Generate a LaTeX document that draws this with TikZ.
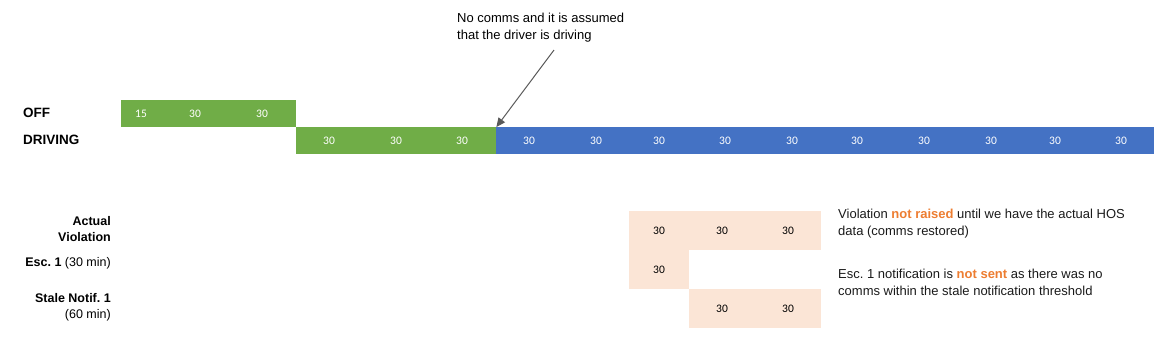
\documentclass[tikz,border=0pt]{standalone}
\usepackage{fontspec}
\setmainfont{Liberation Sans}
\newfontfamily\numfont{Carlito}
\usetikzlibrary{arrows.meta}
\definecolor{offgreen}{HTML}{70AD47}
\definecolor{drvblue}{HTML}{4472C4}
\definecolor{peach}{HTML}{FBE5D6}
\definecolor{hiorange}{HTML}{ED7D31}
\definecolor{txtgray}{HTML}{1A1A1A}
\definecolor{arrgray}{HTML}{595959}
\tikzset{
  bar/.style={draw=none, inner sep=0pt, anchor=north west},
  barnum/.style={font=\numfont\fontsize{11.5}{13}\selectfont, text=white, inner sep=0pt},
  peachnum/.style={font=\numfont\fontsize{11.5}{13}\selectfont, text=black, inner sep=0pt},
  rowlabel/.style={font=\bfseries\fontsize{13.5}{15}\selectfont, anchor=west, inner sep=0pt},
  sidelabel/.style={font=\fontsize{12.5}{16}\selectfont, anchor=east, align=right, inner sep=0pt},
  note/.style={font=\fontsize{13}{17}\selectfont, anchor=north west, align=left, inner sep=0pt, text=txtgray}
}
\newcommand{\hlt}[1]{\textcolor{hiorange}{\bfseries #1}}
\begin{document}
\begin{tikzpicture}[x=1pt,y=-1pt]
\useasboundingbox (0,0) rectangle (1165,360);
% row labels
\node[rowlabel] (offL) at (23,113) {OFF};
\node[rowlabel] (drvL) at (23,140) {DRIVING};
% bars
\fill[offgreen] (121,100) rectangle (296,127);
\node[bar, minimum width=175pt, minimum height=27pt] (offbar) at (121,100) {};
\fill[offgreen] (296,127) rectangle (496,154);
\node[bar, minimum width=200pt, minimum height=27pt] (drvG) at (296,127) {};
\fill[drvblue] (496,127) rectangle (1154,154);
\node[bar, minimum width=658pt, minimum height=27pt] (drvB) at (496,127) {};
% numbers
\foreach \x/\t [count=\i] in {141/15,195/30,262/30}
  \node[barnum] (o\i) at (\x,113.5) {\t};
\foreach \x [count=\i] in {329,396,462,529,596,659,725,792,857,924,991,1055,1121}
  \node[barnum] (d\i) at (\x,140.5) {30};
% annotation
\node[note, text=black] (ann) at (457,13) {No comms and it is assumed\\that the driver is driving};
\coordinate (arrS) at (554,50);
\draw[arrgray, line width=1pt, -{Triangle[length=9pt,width=8pt]}] (arrS) -- (drvG.north east);
% side labels
\node[sidelabel] (actL) at (111,229.5) {\bfseries Actual\\\bfseries Violation};
\node[sidelabel] (escL) at (111,263) {\bfseries Esc.\ 1 \mdseries(30 min)};
\node[sidelabel] (staL) at (111,307) {\bfseries Stale Notif.\ 1\\(60 min)};
% peach boxes
\fill[peach] (629,211) rectangle (821,250);
\node[bar, minimum width=192pt, minimum height=39pt] (actbox) at (629,211) {};
\fill[peach] (629,250) rectangle (689,289);
\node[bar, minimum width=60pt, minimum height=39pt] (escbox) at (629,250) {};
\fill[peach] (689,289) rectangle (821,328);
\node[bar, minimum width=132pt, minimum height=39pt] (stabox) at (689,289) {};
\node[peachnum] (a1) at (659,231) {30};
\node[peachnum] (a2) at (722,231) {30};
\node[peachnum] (a3) at (788,231) {30};
\node[peachnum] (e1) at (659,270) {30};
\node[peachnum] (s1) at (722,309) {30};
\node[peachnum] (s2) at (788,309) {30};
% notes
\node[note] (n1) at (838,208.5) {Violation \hlt{not raised} until we have the actual HOS\\data (comms restored)};
\node[note] (n2) at (838,268.5) {Esc.\ 1 notification is \hlt{not sent} as there was no\\comms within the stale notification threshold};
\end{tikzpicture}
\end{document}
